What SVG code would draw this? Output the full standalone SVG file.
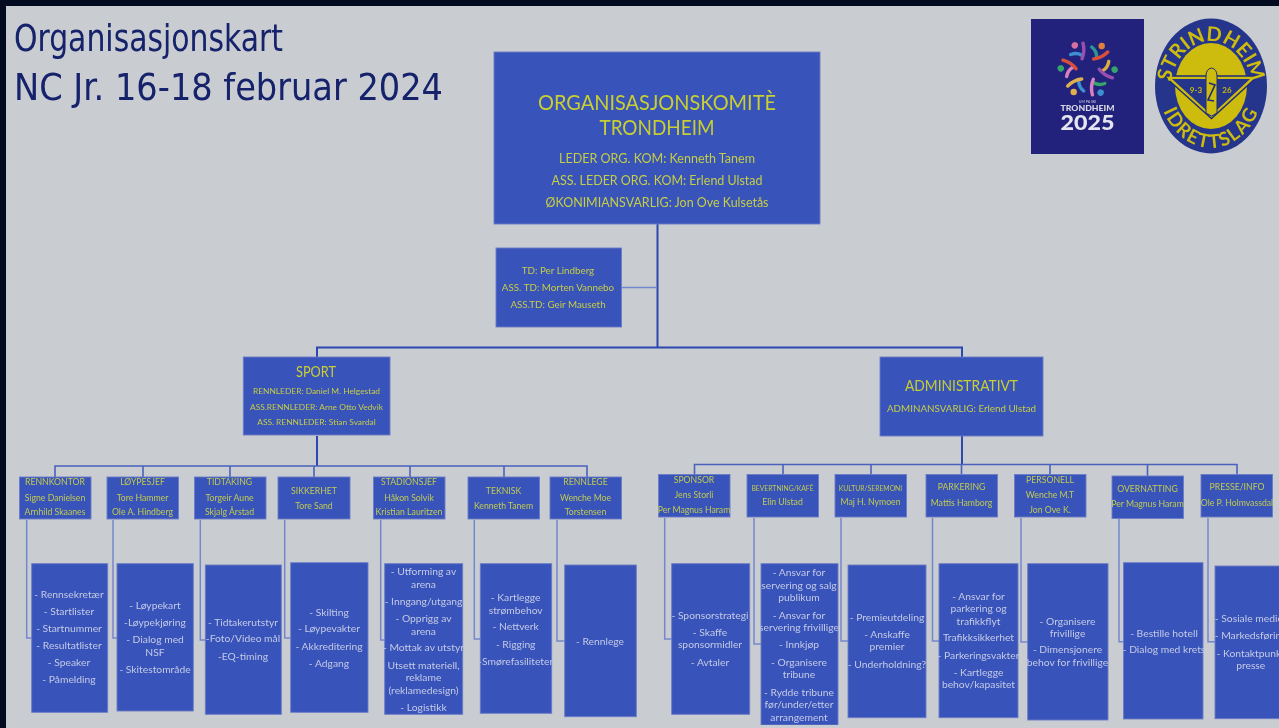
<svg xmlns="http://www.w3.org/2000/svg" width="1279" height="728" viewBox="0 0 1279 728">
<style>
text{font-family:"Lato","Noto Sans","Liberation Sans",sans-serif;text-anchor:middle}
.box{fill:#3952b9;stroke:#6a7dc6;stroke-width:.9}
.y{fill:#c4ce46}
.h{fill:#c8cf30;font-size:22px}
.y13{font-size:13.5px}
.y10{font-size:9.8px}
.y9{font-size:8.4px}
.r{font-size:8.7px;fill:#c0cc50}
.rs{font-size:6.8px}
.s{font-size:10.3px;fill:#c3cbe6}
.c1{fill:none;stroke:#2f49ad;stroke-width:2}
.c2{fill:none;stroke:#4a62bd;stroke-width:1.6}
.c3{fill:none;stroke:#7587cc;stroke-width:1.5}
.title{font-family:"DejaVu Sans","Noto Sans",sans-serif;font-stretch:condensed;font-size:38px;fill:#13206b;text-anchor:start}
.p{fill:none;stroke-width:3.4;stroke-linecap:round}
.lg{font-family:"Lato","Liberation Sans",sans-serif;font-weight:700;fill:#cdbb10}
</style>
<defs>
<filter id="soft" x="0" y="0" width="100%" height="100%"><feGaussianBlur stdDeviation="0.4"/></filter>
<path id="arcTop" d="M1170,92 A41,51 0 0 1 1252,92"/>
<path id="arcBot" d="M1157,78 A54,70 0 0 0 1265,78"/>
</defs>
<rect width="1279" height="728" fill="#c9ccd1"/>
<g filter="url(#soft)">
<text class="title" x="14" y="51" textLength="269" lengthAdjust="spacingAndGlyphs">Organisasjonskart</text>
<text class="title" x="14" y="100" textLength="429" lengthAdjust="spacingAndGlyphs">NC Jr. 16-18 februar 2024</text>

<g id="logo-trondheim">
<rect x="1031" y="19" width="113" height="135" fill="#24247c"/>
<g transform="translate(1087.7 69)">
<g><circle cx="14" cy="-23" r="3.2" fill="#e0803a"/><path class="p" d="M4,-22Q9,-18 9,-12" stroke="#2a9a90"/><path class="p" d="M6,-10Q14,-11 20,-17" stroke="#d9503a"/></g>
<g transform="rotate(60)"><circle cx="14" cy="-23" r="3.2" fill="#35a56a"/><path class="p" d="M4,-22Q9,-18 9,-12" stroke="#d8b040"/><path class="p" d="M6,-10Q14,-11 20,-17" stroke="#9a50b0"/></g>
<g transform="rotate(120)"><circle cx="14" cy="-23" r="3.2" fill="#3a90d0"/><path class="p" d="M4,-22Q9,-18 9,-12" stroke="#35a56a"/><path class="p" d="M6,-10Q14,-11 20,-17" stroke="#d880c0"/></g>
<g transform="rotate(180)"><circle cx="14" cy="-23" r="3.2" fill="#e0b050"/><path class="p" d="M4,-22Q9,-18 9,-12" stroke="#3a90d0"/><path class="p" d="M6,-10Q14,-11 20,-17" stroke="#e0b050"/></g>
<g transform="rotate(240)"><circle cx="14" cy="-23" r="3.2" fill="#35a56a"/><path class="p" d="M4,-22Q9,-18 9,-12" stroke="#d880c0"/><path class="p" d="M6,-10Q14,-11 20,-17" stroke="#d9503a"/></g>
<g transform="rotate(300)"><circle cx="14" cy="-23" r="3.2" fill="#d870a0"/><path class="p" d="M4,-22Q9,-18 9,-12" stroke="#3a90d0"/><path class="p" d="M6,-10Q14,-11 20,-17" stroke="#9a50b0"/></g>
</g>
<text x="1087.500" y="102.500" font-size="3.600" fill="#c9cbe0">UM PÅ SKI</text>
<text x="1087.500" y="111" font-size="7" font-weight="900" textLength="54" lengthAdjust="spacingAndGlyphs" fill="#d8d9e6">TRONDHEIM</text>
<text x="1087.500" y="129.500" font-size="20" font-weight="900" textLength="54" lengthAdjust="spacingAndGlyphs" fill="#e4e5ee">2025</text>
</g>

<g id="logo-strindheim">
<ellipse cx="1211" cy="86" rx="56" ry="67.500" fill="#25358c"/>
<ellipse cx="1211" cy="86" rx="36" ry="43" fill="#cdbb10"/>
<path d="M1164,76H1258L1211.500,118.500Z" fill="#cdbb10" stroke="#1c2c78" stroke-width="1.400"/>
<path d="M1172,79H1250L1211.500,115Z" fill="#25358c"/>
<path d="M1206,113V76Q1206,69 1211.500,68Q1217,69 1217,76V113L1211.500,116Z" fill="#cdbb10" stroke="#1c2c78" stroke-width="1"/>
<path d="M1209,83L1215,85L1208,100L1214,101" fill="none" stroke="#1c2c78" stroke-width="1.600"/>
<text class="lg" x="1196" y="93" font-size="8">9-3</text>
<text class="lg" x="1227" y="93" font-size="8">26</text>
<text class="lg" font-size="20"><textPath href="#arcTop" startOffset="50%">STRINDHEIM</textPath></text>
<text class="lg" font-size="19" letter-spacing="1.500"><textPath href="#arcBot" startOffset="50%">IDRETTSLAG</textPath></text>
</g>

<g id="connectors">
<path class="c1" d="M657.500,224V347M317,357V347.500H962V357M317,436V466M962,436V465"/>
<path class="c3" d="M622,287.500H657"/>
<path class="c2" d="M55,477V466H587V477M143,466V477M230,466V477M314,466V477M410,466V477M504,466V477"/>
<path class="c2" d="M694.500,474V464.500H1237V474.500M783,465V474.500M871,465V474.500M961.500,465V474.500M1050,465V474.500M1147.500,465V476"/>
<path class="c3" d="M26.700,520V638H31.700M113,520V638H117M200.300,520V640H205M284.700,520V638H290.700M380.700,520V640H384.700M474.300,520V639H480M557,520V641H564.700M664.700,518V639H671.700M754,518V644H761M841,518V641H848M932.500,518V641H939M1021,518V642H1027.700M1119,519V641.700H1123.500M1208,518V641.700H1215"/>
</g>

<g id="org-komite"><rect class="box" x="494" y="52" width="326" height="172"/>
<text class="h" x="657" y="109.500" textLength="238" lengthAdjust="spacingAndGlyphs">ORGANISASJONSKOMITÈ</text>
<text class="h" x="657" y="135" textLength="115" lengthAdjust="spacingAndGlyphs">TRONDHEIM</text>
<text class="y y13" x="657" y="163" textLength="196" lengthAdjust="spacingAndGlyphs">LEDER ORG. KOM: Kenneth Tanem</text>
<text class="y y13" x="657" y="185" textLength="211" lengthAdjust="spacingAndGlyphs">ASS. LEDER ORG. KOM: Erlend Ulstad</text>
<text class="y y13" x="657" y="207" textLength="223" lengthAdjust="spacingAndGlyphs">ØKONIMIANSVARLIG: Jon Ove Kulsetås</text></g>

<g id="td"><rect class="box" x="496" y="248" width="125.500" height="79"/>
<text class="y y10" x="558" y="274">TD: Per Lindberg</text>
<text class="y y10" x="558" y="290.500">ASS. TD: Morten Vannebo</text>
<text class="y y10" x="558" y="308">ASS.TD: Geir Mauseth</text></g>

<g id="sport"><rect class="box" x="243.300" y="357" width="146.700" height="78"/>
<text class="h" x="316" y="377" style="font-size:16px" textLength="40" lengthAdjust="spacingAndGlyphs">SPORT</text>
<text class="y y9" x="316.500" y="394">RENNLEDER: Daniel M. Helgestad</text>
<text class="y y9" x="316.500" y="410">ASS.RENNLEDER: Arne Otto Vedvik</text>
<text class="y y9" x="316.500" y="424.500">ASS. RENNLEDER: Stian Svardal</text></g>

<g id="administrativt"><rect class="box" x="880" y="357" width="163" height="79"/>
<text class="h" x="961.500" y="391" style="font-size:16px" textLength="113" lengthAdjust="spacingAndGlyphs">ADMINISTRATIVT</text>
<text class="y y10" x="961.500" y="411.500">ADMINANSVARLIG: Erlend Ulstad</text></g>

<g id="rennkontor"><rect class="box" x="19.500" y="477" width="71.500" height="42"/><text class="r" x="55" y="484.500">RENNKONTOR</text><text class="r" x="55" y="500.500">Signe Danielsen</text><text class="r" x="55" y="515">Arnhild Skaanes</text></g>
<g id="loypesjef"><rect class="box" x="107" y="477" width="71.500" height="42"/><text class="r" x="142.500" y="484.500">LØYPESJEF</text><text class="r" x="142.500" y="500.500">Tore Hammer</text><text class="r" x="142.500" y="515">Ole A. Hindberg</text></g>
<g id="tidtaking"><rect class="box" x="194.500" y="477" width="71.500" height="42"/><text class="r" x="229.500" y="484.500">TIDTAKING</text><text class="r" x="229.500" y="500.500">Torgeir Aune</text><text class="r" x="229.500" y="515">Skjalg Årstad</text></g>
<g id="sikkerhet"><rect class="box" x="278" y="477" width="72" height="42"/><text class="r" x="314" y="493.500">SIKKERHET</text><text class="r" x="314" y="508.500">Tore Sand</text></g>
<g id="stadionsjef"><rect class="box" x="373.500" y="477" width="71.500" height="42"/><text class="r" x="409" y="484.500">STADIONSJEF</text><text class="r" x="409" y="500.500">Håkon Solvik</text><text class="r" x="409" y="515">Kristian Lauritzen</text></g>
<g id="teknisk"><rect class="box" x="468" y="477" width="71.500" height="42"/><text class="r" x="503.500" y="493.500">TEKNISK</text><text class="r" x="503.500" y="508.500">Kenneth Tanem</text></g>
<g id="rennlege"><rect class="box" x="550" y="477" width="71.500" height="42"/><text class="r" x="585.500" y="484.500">RENNLEGE</text><text class="r" x="585.500" y="500.500">Wenche Moe</text><text class="r" x="585.500" y="515">Torstensen</text></g>
<g id="sponsor"><rect class="box" x="658.500" y="474.500" width="71.500" height="42.500"/><text class="r" x="694" y="482.500">SPONSOR</text><text class="r" x="694" y="498">Jens Storli</text><text class="r" x="694" y="513">Per Magnus Haram</text></g>
<g id="bevertning"><rect class="box" x="747" y="474.500" width="71.500" height="42.500"/><text class="r rs" x="782.500" y="491">BEVERTNING/KAFÈ</text><text class="r" x="782.500" y="505">Elin Ulstad</text></g>
<g id="kultur"><rect class="box" x="835" y="474.500" width="71.500" height="42.500"/><text class="r rs" x="870.500" y="491">KULTUR/SEREMONI</text><text class="r" x="870.500" y="505">Maj H. Nymoen</text></g>
<g id="parkering"><rect class="box" x="926" y="474.500" width="71.500" height="42.500"/><text class="r" x="961.500" y="490">PARKERING</text><text class="r" x="961.500" y="506">Mattis Hamborg</text></g>
<g id="personell"><rect class="box" x="1014.500" y="474.500" width="71.500" height="42.500"/><text class="r" x="1050" y="482.500">PERSONELL</text><text class="r" x="1050" y="498">Wenche M.T</text><text class="r" x="1050" y="513">Jon Ove K.</text></g>
<g id="overnatting"><rect class="box" x="1112" y="476" width="71.500" height="42.500"/><text class="r" x="1147.500" y="491.500">OVERNATTING</text><text class="r" x="1147.500" y="507">Per Magnus Haram</text></g>
<g id="presse"><rect class="box" x="1201" y="474.500" width="71.500" height="42.500"/><text class="r" x="1237" y="490">PRESSE/INFO</text><text class="r" x="1237" y="506">Ole P. Holmvassdal</text></g>

<g id="list-rennkontor"><rect class="box" x="31.700" y="563.700" width="76" height="148.600"/>
<text class="s" x="69" y="597.700">- Rennsekretær</text><text class="s" x="69" y="614.700">- Startlister</text><text class="s" x="69" y="632.300">- Startnummer</text><text class="s" x="69" y="649">- Resultatlister</text><text class="s" x="69" y="665.700">- Speaker</text><text class="s" x="69" y="683.300">- Påmelding</text></g>
<g id="list-loypesjef"><rect class="box" x="117" y="563.700" width="76.300" height="147.300"/>
<text class="s" x="155" y="609">- Løypekart</text><text class="s" x="155" y="625.700">-Løypekjøring</text><text class="s" x="155" y="643.300">- Dialog med</text><text class="s" x="155" y="655.700">NSF</text><text class="s" x="155" y="672.700">- Skitestområde</text></g>
<g id="list-tidtaking"><rect class="box" x="205.300" y="565" width="76" height="149.300"/>
<text class="s" x="243" y="625.700">- Tidtakerutstyr</text><text class="s" x="243" y="642.300">-Foto/Video mål</text><text class="s" x="243" y="660">-EQ-timing</text></g>
<g id="list-sikkerhet"><rect class="box" x="290.700" y="562.700" width="77.300" height="149.600"/>
<text class="s" x="329" y="615.700">- Skilting</text><text class="s" x="329" y="632.300">- Løypevakter</text><text class="s" x="329" y="650">- Akkreditering</text><text class="s" x="329" y="667.300">- Adgang</text></g>
<g id="list-stadion"><rect class="box" x="384.700" y="563.700" width="78" height="150.600"/>
<text class="s" x="423.500" y="575.300">- Utforming av</text><text class="s" x="423.500" y="588">arena</text><text class="s" x="423.500" y="604.700">- Inngang/utgang</text><text class="s" x="423.500" y="622.300">- Opprigg av</text><text class="s" x="423.500" y="634.700">arena</text><text class="s" x="423.500" y="651.300">- Mottak av utstyr</text><text class="s" x="423.500" y="669">Utsett materiell,</text><text class="s" x="423.500" y="681.300">reklame</text><text class="s" x="423.500" y="693.700">(reklamedesign)</text><text class="s" x="423.500" y="711.300">- Logistikk</text></g>
<g id="list-teknisk"><rect class="box" x="480.300" y="563.700" width="71.400" height="149.600"/>
<text class="s" x="515.700" y="601.300">- Kartlegge</text><text class="s" x="515.700" y="613.700">strømbehov</text><text class="s" x="515.700" y="630">- Nettverk</text><text class="s" x="515.700" y="648.300">- Rigging</text><text class="s" x="515.700" y="664.700">-Smørefasiliteter</text></g>
<g id="list-rennlege"><rect class="box" x="564.700" y="565" width="71.600" height="151.700"/>
<text class="s" x="600" y="644.700">- Rennlege</text></g>
<g id="list-sponsor"><rect class="box" x="671.700" y="563.700" width="78" height="150.600"/>
<text class="s" x="710" y="618.700">- Sponsorstrategi</text><text class="s" x="710" y="635.700">- Skaffe</text><text class="s" x="710" y="648">sponsormidler</text><text class="s" x="710" y="665.700">- Avtaler</text></g>
<g id="list-bevertning"><rect class="box" x="761" y="563.700" width="77" height="161.300"/>
<text class="s" x="799" y="576.300">- Ansvar for</text><text class="s" x="799" y="589">servering og salg</text><text class="s" x="799" y="601.300">publikum</text><text class="s" x="799" y="618.700">- Ansvar for</text><text class="s" x="799" y="631">servering frivillige</text><text class="s" x="799" y="648">- Innkjøp</text><text class="s" x="799" y="665.700">- Organisere</text><text class="s" x="799" y="678">tribune</text><text class="s" x="799" y="695.700">- Rydde tribune</text><text class="s" x="799" y="708.300">før/under/etter</text><text class="s" x="799" y="720.700">arrangement</text></g>
<g id="list-kultur"><rect class="box" x="848" y="565" width="78" height="152.700"/>
<text class="s" x="887" y="621">- Premieutdeling</text><text class="s" x="887" y="637.700">- Anskaffe</text><text class="s" x="887" y="650.300">premier</text><text class="s" x="887" y="667.700">- Underholdning?</text></g>
<g id="list-parkering"><rect class="box" x="939" y="563.700" width="79" height="154"/>
<text class="s" x="978.500" y="599.700">- Ansvar for</text><text class="s" x="978.500" y="612.300">parkering og</text><text class="s" x="978.500" y="624.700">trafikkflyt</text><text class="s" x="978.500" y="641">Trafikksikkerhet</text><text class="s" x="978.500" y="659">- Parkeringsvakter</text><text class="s" x="978.500" y="676">- Kartlegge</text><text class="s" x="978.500" y="688.300">behov/kapasitet</text></g>
<g id="list-personell"><rect class="box" x="1027.700" y="563.700" width="80.300" height="156.300"/>
<text class="s" x="1067.500" y="624.700">- Organisere</text><text class="s" x="1067.500" y="636.700">frivillige</text><text class="s" x="1067.500" y="653.300">- Dimensjonere</text><text class="s" x="1067.500" y="665.700">behov for frivillige</text></g>
<g id="list-overnatting"><rect class="box" x="1123.500" y="562.700" width="79.500" height="156.300"/>
<text class="s" x="1164" y="636.700">- Bestille hotell</text><text class="s" x="1164" y="653.300">- Dialog med krets</text></g>
<g id="list-presse"><rect class="box" x="1215" y="566" width="70" height="152.700"/>
<text class="s" x="1250.700" y="622">- Sosiale medier</text><text class="s" x="1250.700" y="638.700">- Markedsføring</text><text class="s" x="1250.700" y="656.700">- Kontaktpunkt</text><text class="s" x="1250.700" y="669.300">presse</text></g>
</g>
<rect width="1279" height="6" fill="#020b20"/>
<rect width="6" height="728" fill="#020b20"/>
</svg>
